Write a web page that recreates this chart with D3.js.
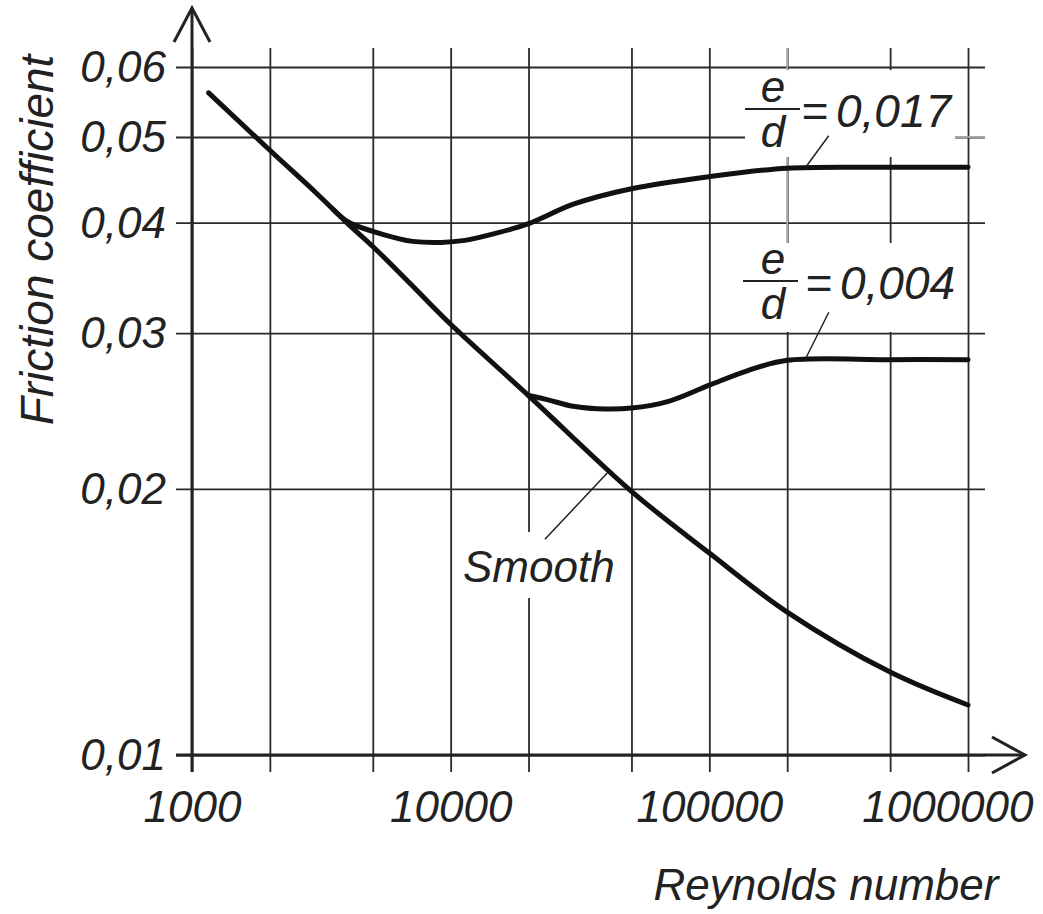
<!DOCTYPE html>
<html>
<head>
<meta charset="utf-8">
<script src="https://cdn.jsdelivr.net/npm/d3@7"></script>
<style>
  body { margin: 0; background: #fff; }
  text { font-family: "Liberation Sans", Arial, sans-serif; font-style: italic; fill: #222; }
</style>
</head>
<body>
<div id="chart"></div>
<script>
// tick values
const reTicks = [1000, 2000, 5000, 10000, 20000, 50000, 100000, 200000, 500000, 1000000]
const reLabels = [1000, 10000, 100000, 1000000]
const fTicks = [0.01, 0.02, 0.03, 0.04, 0.05, 0.06]

// curves
const smoothRe = [1160, 2000, 3000, 3500, 4000, 5000, 7000, 10000, 20000, 50000, 100000, 200000, 500000, 1000000]
const smoothF = [0.0561, 0.0483, 0.0433, 0.04145, 0.0399, 0.0376, 0.0341, 0.0307, 0.0255, 0.01987, 0.01692, 0.01451, 0.01241, 0.01139]

// rough pipes branch off the smooth curve
const rough004Re = [20000, 24000, 29700, 40000, 50000, 69000, 100000, 140000, 200000, 500000, 1000000]
const rough004F = [0.0255, 0.0252, 0.0248, 0.02462, 0.02468, 0.0251, 0.0262, 0.0272, 0.02795, 0.0280, 0.0280]

const rough017Re = [3500, 4000, 5000, 6230, 7130, 9190, 11350, 14900, 20000, 30000, 50000, 100000, 200000, 500000, 1000000]
const rough017F = [0.04145, 0.0401, 0.0391, 0.0384, 0.0381, 0.0380, 0.0382, 0.0389, 0.0399, 0.0420, 0.0437, 0.0451, 0.0461, 0.0462, 0.0462]

const ratioLabels = ['0,017', '0,004']

const W = 1043, H = 914
const svg = d3.select('#chart').append('svg').attr('width', W).attr('height', H)
svg.append('rect').attr('width', W).attr('height', H).attr('fill', '#fff')

const x = d3.scaleLog().domain([1000, 1000000]).range([192, 968])
const y = d3.scaleLog().domain([0.01, 0.06]).range([755, 67])

const gridLeft = 176, gridRight = 985, gridTop = 48, gridBottom = 772

// grid + tick labels through d3 axes
const yAxis = svg.append('g')
  .attr('transform', `translate(${gridLeft},0)`)
  .call(d3.axisLeft(y).tickValues(fTicks).tickSize(-(gridRight - gridLeft)).tickPadding(10)
    .tickFormat(d => d3.format('.2f')(d).replace('.', ',')))
yAxis.select('.domain').remove()
yAxis.selectAll('line').attr('stroke', '#2a2a2a').attr('stroke-width', 1.8)
yAxis.selectAll('text').attr('font-size', 44).attr('fill', '#222').attr('dy', '0.33em')

const xAxis = svg.append('g')
  .attr('transform', `translate(0,${gridBottom})`)
  .call(d3.axisBottom(x).tickValues(reTicks).tickSize(-(gridBottom - gridTop)).tickPadding(19)
    .tickFormat(d => reLabels.includes(d) ? String(d) : ''))
xAxis.select('.domain').remove()
xAxis.selectAll('line').attr('stroke', '#2a2a2a').attr('stroke-width', 1.8)
xAxis.selectAll('text').attr('font-size', 44).attr('fill', '#222')
xAxis.selectAll('.tick').filter(d => d === 1000000).select('text')
  .attr('text-anchor', 'end').attr('x', W - 10 - x(1000000))

// label boxes that mask the grid
const boxes = [
  { x0: 745, x1: 955, y0: 70, y1: 157 },
  { x0: 740, x1: 958, y0: 243, y1: 332 },
  { x0: 460, x1: 620, y0: 532, y1: 598 }
]
svg.selectAll('rect.mask').data(boxes).join('rect').attr('class', 'mask')
  .attr('x', d => d.x0).attr('y', d => d.y0)
  .attr('width', d => d.x1 - d.x0).attr('height', d => d.y1 - d.y0)
  .attr('fill', '#fff')

// lighter grid pieces near the labels
const gray = [
  [x(200000), gridTop, x(200000), boxes[0].y0],
  [x(200000), boxes[0].y1, x(200000), boxes[1].y0],
  [boxes[0].x1, y(0.05), gridRight, y(0.05)]
]
svg.selectAll('line.gray').data(gray).join('line').attr('class', 'gray')
  .attr('x1', d => d[0]).attr('y1', d => d[1]).attr('x2', d => d[2]).attr('y2', d => d[3])
  .attr('stroke', '#aaa').attr('stroke-width', 1.8)

// axes with open arrows
const ax = svg.append('g').attr('fill', 'none').attr('stroke', '#222').attr('stroke-width', 3)
ax.append('line').attr('x1', x(1000)).attr('x2', x(1000)).attr('y1', gridBottom).attr('y2', 8)
ax.append('line').attr('x1', gridLeft).attr('x2', 1025).attr('y1', y(0.01)).attr('y2', y(0.01))
ax.append('path').attr('d', `M${x(1000) - 18},42L${x(1000)},8L${x(1000) + 18},42`)
ax.append('path').attr('d', `M992,${y(0.01) - 18}L1025,${y(0.01)}L992,${y(0.01) + 18}`)

// curves
const line = d3.line().x(d => x(d[0])).y(d => y(d[1])).curve(d3.curveCatmullRom.alpha(0.5))
const series = [
  d3.zip(rough017Re, rough017F),
  d3.zip(rough004Re, rough004F),
  d3.zip(smoothRe, smoothF)
]
svg.selectAll('path.curve').data(series).join('path').attr('class', 'curve')
  .attr('d', line).attr('fill', 'none').attr('stroke', '#111')
  .attr('stroke-width', 5).attr('stroke-linecap', 'round')

// leader lines
const leaders = [
  { re: 238000, f: 0.0464, dx: 22, dy: -30 },
  { re: 236000, f: 0.0281, dx: 23, dy: -46 },
  { re: 40550, f: 0.02088, dx: -63, dy: 67 }
]
svg.selectAll('line.leader').data(leaders).join('line').attr('class', 'leader')
  .attr('x1', d => x(d.re)).attr('y1', d => y(d.f))
  .attr('x2', d => x(d.re) + d.dx).attr('y2', d => y(d.f) + d.dy)
  .attr('stroke', '#222').attr('stroke-width', 1.5)

// e/d labels
const labelTops = [109, 281]
ratioLabels.forEach((v, i) => {
  const g = svg.append('g').attr('transform', `translate(0,${labelTops[i]})`)
  g.append('text').attr('x', 773).attr('y', -7).attr('text-anchor', 'middle').attr('font-size', 44).text('e')
  g.append('text').attr('x', 773).attr('y', 38).attr('text-anchor', 'middle').attr('font-size', 44).text('d')
  g.append('line').attr('x1', 745 - i * 2).attr('x2', 800 - i * 2).attr('y1', 0).attr('y2', 0)
    .attr('stroke', '#222').attr('stroke-width', 2)
  g.append('text').attr('x', 801 + i * 4).attr('y', 18).attr('font-size', 46).text('=')
  g.append('text').attr('x', 836 + i * 4).attr('y', 18).attr('font-size', 46).text(v)
})

svg.append('text').attr('x', 463).attr('y', 582).attr('font-size', 44).text('Smooth')

// axis titles
svg.append('text').attr('x', 826).attr('y', 900).attr('text-anchor', 'middle')
  .attr('font-size', 44).text('Reynolds number')
svg.append('text').attr('transform', 'translate(53,240) rotate(-90)').attr('text-anchor', 'middle')
  .attr('font-size', 46).text('Friction coefficient')
</script>
</body>
</html>
